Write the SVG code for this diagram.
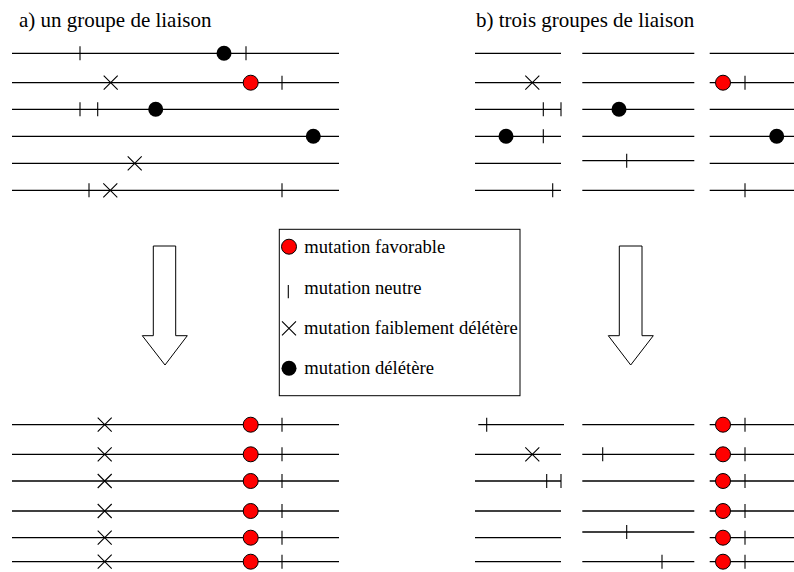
<svg xmlns="http://www.w3.org/2000/svg" xmlns:xlink="http://www.w3.org/1999/xlink" width="794" height="572" viewBox="0 0 794 572">
<style>
.ln{stroke:#000;stroke-width:1.3;fill:none}
.mk{stroke:#000;stroke-width:1.1;fill:none}
.title{font-family:"Liberation Serif","Times New Roman",serif;font-size:21px;fill:#000}
.leg{font-family:"Liberation Serif","Times New Roman",serif;font-size:18.6px;fill:#000}
.arrow{fill:#fff;stroke:#000;stroke-width:1}
</style>
<defs>
<line id="tick" class="mk" x1="0" y1="-7" x2="0" y2="7"/>
<path id="cross" class="mk" d="M-7,-7L7,7M-7,7L7,-7"/>
<circle id="red" r="7.5" fill="#f00" stroke="#000" stroke-width="1"/>
<circle id="blk" r="7.5" fill="#000"/>
</defs>
<rect width="794" height="572" fill="#fff"/>
<text class="title" x="19" y="27">a) un groupe de liaison</text>
<text class="title" x="476" y="27">b) trois groupes de liaison</text>

<g id="connectors">
<g id="top-left-lines">
<line class="ln" x1="12" y1="53.3" x2="339" y2="53.3"/>
<line class="ln" x1="12" y1="82.7" x2="339" y2="82.7"/>
<line class="ln" x1="12" y1="109.3" x2="339" y2="109.3"/>
<line class="ln" x1="12" y1="136.3" x2="339" y2="136.3"/>
<line class="ln" x1="12" y1="163.3" x2="339" y2="163.3"/>
<line class="ln" x1="12" y1="190.3" x2="339" y2="190.3"/>
</g>
<g id="top-right-lines">
<line class="ln" x1="475" y1="53.3" x2="561" y2="53.3"/>
<line class="ln" x1="475" y1="82.7" x2="561" y2="82.7"/>
<line class="ln" x1="475" y1="109.3" x2="561" y2="109.3"/>
<line class="ln" x1="475" y1="136.3" x2="561" y2="136.3"/>
<line class="ln" x1="475" y1="163.3" x2="561" y2="163.3"/>
<line class="ln" x1="475" y1="190.3" x2="561" y2="190.3"/>
<line class="ln" x1="582.3" y1="53.3" x2="694.3" y2="53.3"/>
<line class="ln" x1="582.3" y1="82.7" x2="694.3" y2="82.7"/>
<line class="ln" x1="582.3" y1="109.3" x2="694.3" y2="109.3"/>
<line class="ln" x1="582.3" y1="136.3" x2="694.3" y2="136.3"/>
<line class="ln" x1="582.3" y1="160.7" x2="694.3" y2="160.7"/>
<line class="ln" x1="582.3" y1="190.3" x2="694.3" y2="190.3"/>
<line class="ln" x1="709.7" y1="53.3" x2="794" y2="53.3"/>
<line class="ln" x1="709.7" y1="82.7" x2="794" y2="82.7"/>
<line class="ln" x1="709.7" y1="109.3" x2="794" y2="109.3"/>
<line class="ln" x1="709.7" y1="136.3" x2="794" y2="136.3"/>
<line class="ln" x1="709.7" y1="163.3" x2="794" y2="163.3"/>
<line class="ln" x1="709.7" y1="190.3" x2="794" y2="190.3"/>
</g>
<g id="bottom-left-lines">
<line class="ln" x1="12" y1="424.7" x2="339" y2="424.7"/>
<line class="ln" x1="12" y1="454.3" x2="339" y2="454.3"/>
<line class="ln" x1="12" y1="481" x2="339" y2="481"/>
<line class="ln" x1="12" y1="511" x2="339" y2="511"/>
<line class="ln" x1="12" y1="537.7" x2="339" y2="537.7"/>
<line class="ln" x1="12" y1="561.7" x2="339" y2="561.7"/>
</g>
<g id="bottom-right-lines">
<line class="ln" x1="478.3" y1="424.7" x2="564" y2="424.7"/>
<line class="ln" x1="475" y1="454.3" x2="561" y2="454.3"/>
<line class="ln" x1="475" y1="481" x2="561" y2="481"/>
<line class="ln" x1="475" y1="511" x2="561" y2="511"/>
<line class="ln" x1="475" y1="537.7" x2="561" y2="537.7"/>
<line class="ln" x1="475" y1="561.7" x2="561" y2="561.7"/>
<line class="ln" x1="582.3" y1="424.7" x2="694.3" y2="424.7"/>
<line class="ln" x1="582.3" y1="454.3" x2="694.3" y2="454.3"/>
<line class="ln" x1="582.3" y1="481" x2="694.3" y2="481"/>
<line class="ln" x1="582.3" y1="511" x2="694.3" y2="511"/>
<line class="ln" x1="582.3" y1="532" x2="694.3" y2="532"/>
<line class="ln" x1="582.3" y1="561.7" x2="694.3" y2="561.7"/>
<line class="ln" x1="709.7" y1="424.7" x2="794" y2="424.7"/>
<line class="ln" x1="709.7" y1="454.3" x2="794" y2="454.3"/>
<line class="ln" x1="709.7" y1="481" x2="794" y2="481"/>
<line class="ln" x1="709.7" y1="511" x2="794" y2="511"/>
<line class="ln" x1="709.7" y1="537.7" x2="794" y2="537.7"/>
<line class="ln" x1="709.7" y1="561.7" x2="794" y2="561.7"/>
</g>
</g>

<g id="top-left-marks">
<use href="#tick" x="80" y="53.3"/><use href="#blk" x="224" y="53.3"/><use href="#tick" x="246" y="53.3"/>
<use href="#cross" x="110.7" y="82.7"/><use href="#red" x="250.7" y="82.7"/><use href="#tick" x="282" y="82.7"/>
<use href="#tick" x="80" y="109.3"/><use href="#tick" x="97.7" y="109.3"/><use href="#blk" x="155.7" y="109.3"/>
<use href="#blk" x="313.3" y="136.3"/>
<use href="#cross" x="134.7" y="163.3"/>
<use href="#tick" x="89" y="190.3"/><use href="#cross" x="110.3" y="190.3"/><use href="#tick" x="282" y="190.3"/>
</g>
<g id="top-right-marks">
<use href="#cross" x="532.3" y="82.7"/>
<use href="#tick" x="543.3" y="109.3"/><use href="#tick" x="561" y="109.3"/>
<use href="#blk" x="506" y="136.3"/><use href="#tick" x="543.3" y="136.3"/>
<use href="#tick" x="552.7" y="190.3"/>
<use href="#blk" x="619" y="109.3"/>
<use href="#tick" x="626.7" y="160.7"/>
<use href="#red" x="723" y="82.7"/><use href="#tick" x="745" y="82.7"/>
<use href="#blk" x="776.7" y="136.3"/>
<use href="#tick" x="745" y="190.3"/>
</g>
<g id="bottom-left-marks">
<use href="#cross" x="104.7" y="424.7"/><use href="#red" x="250.7" y="424.7"/><use href="#tick" x="282" y="424.7"/>
<use href="#cross" x="104.7" y="454.3"/><use href="#red" x="250.7" y="454.3"/><use href="#tick" x="282" y="454.3"/>
<use href="#cross" x="104.7" y="481"/><use href="#red" x="250.7" y="481"/><use href="#tick" x="282" y="481"/>
<use href="#cross" x="104.7" y="511"/><use href="#red" x="250.7" y="511"/><use href="#tick" x="282" y="511"/>
<use href="#cross" x="104.7" y="537.7"/><use href="#red" x="250.7" y="537.7"/><use href="#tick" x="282" y="537.7"/>
<use href="#cross" x="104.7" y="561.7"/><use href="#red" x="250.7" y="561.7"/><use href="#tick" x="282" y="561.7"/>
</g>
<g id="bottom-right-marks">
<use href="#tick" x="486.7" y="424.7"/>
<use href="#cross" x="532.3" y="454.3"/>
<use href="#tick" x="546.7" y="481"/><use href="#tick" x="561" y="481"/>
<use href="#tick" x="602.7" y="454.3"/>
<use href="#tick" x="626.7" y="532"/>
<use href="#tick" x="662" y="561.7"/>
<use href="#red" x="723" y="424.7"/><use href="#tick" x="745" y="424.7"/>
<use href="#red" x="723" y="454.3"/><use href="#tick" x="745" y="454.3"/>
<use href="#red" x="723" y="481"/><use href="#tick" x="745" y="481"/>
<use href="#red" x="723" y="511"/><use href="#tick" x="745" y="511"/>
<use href="#red" x="723" y="537.7"/><use href="#tick" x="745" y="537.7"/>
<use href="#red" x="723" y="561.7"/><use href="#tick" x="745" y="561.7"/>
</g>

<g id="arrow-left">
<path class="arrow" d="M153.3,246H175.7V335.7H187.3L165,365L142.3,335.7H153.3Z"/>
</g>
<g id="arrow-right">
<path class="arrow" d="M619.3,246H642V335.7H653.3L630.7,365L608.3,335.7H619.3Z"/>
</g>

<g id="legend">
<rect x="279.3" y="229.3" width="240.7" height="166.4" fill="#fff" stroke="#000" stroke-width="1"/>
<use href="#red" x="289" y="246.7"/>
<text class="leg" x="304.3" y="253.3">mutation favorable</text>
<line class="mk" x1="288.3" y1="285" x2="288.3" y2="298.3"/>
<text class="leg" x="304.3" y="294">mutation neutre</text>
<use href="#cross" x="289" y="328.3"/>
<text class="leg" x="304" y="333.5">mutation faiblement délétère</text>
<use href="#blk" x="289" y="368.3"/>
<text class="leg" x="304.3" y="374">mutation délétère</text>
</g>
</svg>
